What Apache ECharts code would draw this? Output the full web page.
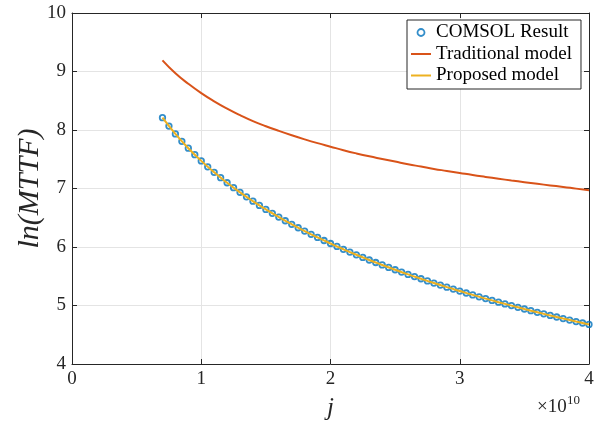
<!DOCTYPE html>
<html>
<head>
<meta charset="utf-8">
<script src="https://cdn.jsdelivr.net/npm/echarts@6/dist/echarts.min.js"></script>
<style>
html,body{margin:0;padding:0;background:#fff;}
#chart{width:606px;height:427px;}
</style>
</head>
<body>
<div id="chart"></div>
<script>
// x values in units of 1e10 (j)
const comsolJ = [0.70,0.75,0.80,0.85,0.90,0.95,1.00,1.05,1.10,1.15,1.20,1.25,1.30,1.35,1.40,1.45,1.50,1.55,1.60,1.65,1.70,1.75,1.80,1.85,1.90,1.95,2.00,2.05,2.10,2.15,2.20,2.25,2.30,2.35,2.40,2.45,2.50,2.55,2.60,2.65,2.70,2.75,2.80,2.85,2.90,2.95,3.00,3.05,3.10,3.15,3.20,3.25,3.30,3.35,3.40,3.45,3.50,3.55,3.60,3.65,3.70,3.75,3.80,3.85,3.90,3.95,4.00];
const comsolResult = [8.210,8.067,7.933,7.807,7.689,7.578,7.472,7.371,7.276,7.185,7.098,7.014,6.934,6.857,6.783,6.711,6.642,6.576,6.511,6.449,6.388,6.329,6.272,6.217,6.163,6.111,6.060,6.010,5.961,5.914,5.867,5.822,5.778,5.735,5.693,5.651,5.611,5.571,5.532,5.494,5.457,5.420,5.384,5.349,5.314,5.280,5.247,5.214,5.181,5.149,5.118,5.087,5.057,5.027,4.998,4.969,4.940,4.912,4.884,4.857,4.830,4.803,4.777,4.751,4.726,4.701,4.676];
const modelJ = [0.7,0.8,0.9,1.0,1.1,1.2,1.3,1.4,1.5,1.6,1.7,1.8,1.9,2.0,2.1,2.2,2.3,2.4,2.5,2.6,2.7,2.8,2.9,3.0,3.1,3.2,3.3,3.4,3.5,3.6,3.7,3.8,3.9,4.0];
const traditionalModel = [9.19,8.97,8.79,8.63,8.49,8.365,8.253,8.152,8.065,7.985,7.91,7.84,7.775,7.715,7.655,7.60,7.55,7.505,7.46,7.415,7.375,7.335,7.30,7.265,7.23,7.198,7.167,7.137,7.108,7.08,7.053,7.027,6.998,6.97];
const proposedModel = [8.210,7.933,7.689,7.472,7.276,7.098,6.934,6.783,6.642,6.511,6.388,6.272,6.163,6.060,5.961,5.867,5.778,5.693,5.611,5.532,5.457,5.384,5.314,5.247,5.181,5.118,5.057,4.998,4.940,4.884,4.830,4.777,4.726,4.676];
const xTicks = [0,1,2,3,4];
const yTicks = [4,5,6,7,8,9,10];

const pair = (xs, ys) => xs.map((x, i) => [x, ys[i]]);
const serif = '"Liberation Serif", "DejaVu Serif", serif';
const axisColor = '#262626';
const gridColor = '#e4e4e4';

const chart = echarts.init(document.getElementById('chart'), null, {renderer: 'canvas'});
chart.setOption({
  animation: false,
  backgroundColor: '#ffffff',
  grid: {left: 72, right: 17, top: 13, bottom: 63, containLabel: false, outerBoundsMode: 'none'},
  xAxis: [{
    type: 'value', min: xTicks[0], max: xTicks[xTicks.length - 1], interval: 1, position: 'bottom',
    axisLine: {show: true, onZero: false, lineStyle: {color: axisColor, width: 1}},
    axisTick: {show: true, inside: true, length: 5, lineStyle: {color: axisColor}},
    axisLabel: {color: axisColor, fontFamily: serif, fontSize: 19, margin: 6},
    splitLine: {show: true, lineStyle: {color: gridColor, width: 1}},
    name: 'j', nameLocation: 'middle', nameGap: 32, nameMoveOverlap: false,
    nameTextStyle: {fontFamily: serif, fontStyle: 'italic', fontSize: 25, color: axisColor}
  }, {
    type: 'value', min: xTicks[0], max: xTicks[xTicks.length - 1], interval: 1, position: 'top',
    axisLine: {show: true, onZero: false, lineStyle: {color: axisColor, width: 1}},
    axisTick: {show: true, inside: true, length: 5, lineStyle: {color: axisColor}},
    axisLabel: {show: false}, splitLine: {show: false}
  }],
  yAxis: [{
    type: 'value', min: yTicks[0], max: yTicks[yTicks.length - 1], interval: 1, position: 'left',
    axisLine: {show: true, onZero: false, lineStyle: {color: axisColor, width: 1}},
    axisTick: {show: true, inside: true, length: 5, lineStyle: {color: axisColor}},
    axisLabel: {color: axisColor, fontFamily: serif, fontSize: 19, margin: 6},
    splitLine: {show: true, lineStyle: {color: gridColor, width: 1}},
    name: 'ln(MTTF)', nameLocation: 'middle', nameGap: 27, nameRotate: 90, nameMoveOverlap: false,
    nameTextStyle: {fontFamily: serif, fontStyle: 'italic', fontSize: 30, color: axisColor}
  }, {
    type: 'value', min: yTicks[0], max: yTicks[yTicks.length - 1], interval: 1, position: 'right',
    axisLine: {show: true, onZero: false, lineStyle: {color: axisColor, width: 1}},
    axisTick: {show: true, inside: true, length: 5, lineStyle: {color: axisColor}},
    axisLabel: {show: false}, splitLine: {show: false}
  }],
  legend: {
    orient: 'vertical', left: 407, top: 20,
    padding: [3, 9, 4, 3], itemGap: 2.5, itemWidth: 20, itemHeight: 7,
    backgroundColor: '#ffffff', borderColor: axisColor, borderWidth: 1, borderRadius: 0,
    textStyle: {fontFamily: serif, fontSize: 19, color: '#000000'},
    data: [
      {name: 'COMSOL Result', icon: 'circle', itemStyle: {color: 'rgba(0,0,0,0)', borderColor: '#0072BD', borderWidth: 1.8}},
      {name: 'Traditional model', itemStyle: {opacity: 0}},
      {name: 'Proposed model', itemStyle: {opacity: 0}}
    ]
  },
  graphic: [
    {type: 'text', left: 537, top: 398, style: {text: '×10', font: '19px ' + serif, fill: axisColor}},
    {type: 'text', left: 567, top: 394, style: {text: '10', font: '13px ' + serif, fill: axisColor}}
  ],
  series: [
    {
      name: 'COMSOL Result', type: 'scatter', data: pair(comsolJ, comsolResult),
      symbol: 'circle', symbolSize: 5.5, z: 2,
      itemStyle: {color: 'rgba(0,0,0,0)', borderColor: '#0072BD', borderWidth: 1.8}
    },
    {
      name: 'Traditional model', type: 'line', data: pair(modelJ, traditionalModel),
      symbol: 'none', smooth: true, z: 3, color: '#D95319',
      lineStyle: {color: '#D95319', width: 2}
    },
    {
      name: 'Proposed model', type: 'line', data: pair(modelJ, proposedModel),
      symbol: 'none', smooth: true, z: 4, color: '#EDB120',
      lineStyle: {color: '#EDB120', width: 2}
    }
  ]
});
</script>
</body>
</html>
